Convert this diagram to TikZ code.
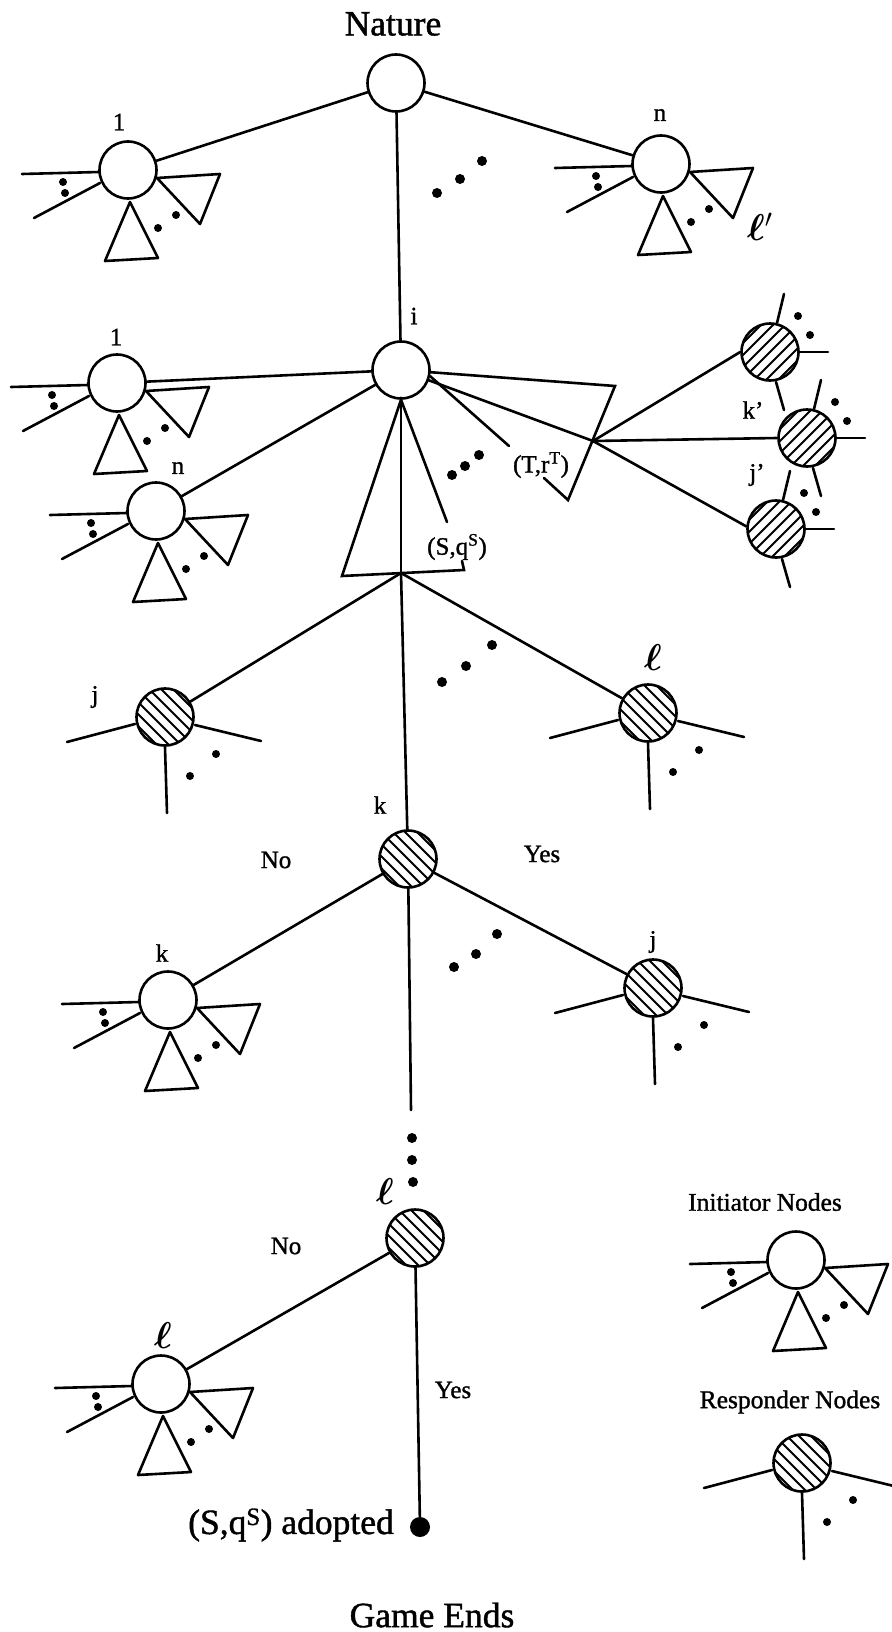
\documentclass[tikz,border=0pt]{standalone}
\usepackage{fontspec}
\setmainfont{Liberation Serif}[FakeBold=1.2]
\usepackage{bm}
\usetikzlibrary{calc}
\tikzset{
  edge/.style={line width=2.6pt, line cap=round, line join=round},
  ncirc/.style={circle, draw, line width=2.6pt, minimum size=57pt, inner sep=0pt},
  lab/.style={font=\fontsize{25}{29}\selectfont, inner sep=0pt},
  leg/.style={font=\fontsize{25.5}{29}\selectfont, inner sep=0pt},
  biglab/.style={font=\fontsize{35.5}{40}\selectfont, inner sep=0pt},
  hatch/.style={line width=1.9pt},
  initiator/.pic={
    \node[ncirc] (-c) at (0,0) {};
    \draw[edge] (-106,4) -- (-29,2);
    \draw[edge] (-94,48) -- (-28,13);
    \fill (-65,12) circle (4pt) (-63,23) circle (4pt);
    \draw[edge] (29,8) -- (92,4) -- (72,54) -- cycle;
    \draw[edge] (2,32) -- (-23,91) -- (30,88) -- cycle;
    \fill (30,58) circle (4pt) (48,45) circle (4pt);
  },
  rnode/.pic={
    \begin{scope}
      \clip (0,0) circle (28.5pt);
      \foreach \c in {-72,-60,...,72} \draw[hatch] (\c-40,-40) -- (\c+40,40);
    \end{scope}
    \node[ncirc] (-c) at (0,0) {};
  },
  rstubs/.pic={
    \draw[edge] (-30,7) -- (-98,25);
    \draw[edge] (30,8) -- (96,24);
    \draw[edge] (0,30) -- (2,96);
    \fill (25,59) circle (4pt) (51,37) circle (4pt);
  },
  pnode/.pic={
    \begin{scope}
      \clip (0,0) circle (28.5pt);
      \foreach \c in {-72,-60,...,72} \draw[hatch] (\c-40,40) -- (\c+40,-40);
    \end{scope}
    \node[ncirc] (-c) at (0,0) {};
    \draw[edge] (7,-29) -- (14,-58);
    \draw[edge] (30,0) -- (58,0);
    \draw[edge] (6,30) -- (14,58);
    \fill (28,-36) circle (4pt) (40,-17) circle (4pt);
  },
}
\begin{document}
\begin{tikzpicture}[x=1pt,y=-1pt]
\useasboundingbox (0,0) rectangle (891,1632);

% Nature
\node[biglab] at (393,24) {Nature};
\node[ncirc] (nat) at (396,83) {};
\pic (ta) at (128,170) {initiator};
\node[lab] at (119,122) {1};
\pic (tb) at (661,164) {initiator};
\node[lab] at (660,115) {n};
\draw[edge] (nat) -- (ta-c);
\draw[edge] (nat) -- (tb-c);
\fill (437,193) circle (5pt) (460,179) circle (5pt) (482,161) circle (5pt);

% i
\node[ncirc] (i) at (401,370) {};
\node[lab] at (414,316) {i};
\draw[edge] (nat) -- (i);
\pic (sa) at (117,383) {initiator};
\node[lab] at (116,337) {1};
\pic (sb) at (156,511) {initiator};
\node[lab] at (178,468) {n};
\draw[edge] (i) -- (sa-c);
\draw[edge] (i) -- (sb-c);

% (S,q^S) triangle
\coordinate (tl) at (342,576);
\coordinate (tr) at (464,570);
\coordinate (b0) at (401,573);
\coordinate (sA) at (447,522);
\coordinate (sB) at (462,561);
\draw[edge, line join=miter] (sA) -- (i.south) -- (tl) -- (tr) -- (sB);
\draw[edge] (i.south) -- (b0);
\node[lab] at (457,547) {(S,q\textsuperscript{S})};

% (T,r^T) triangle
\coordinate (A) at (615,386);
\coordinate (B) at (568,500);
\coordinate (P) at (593,441);
\coordinate (tA) at (509,446);
\coordinate (tB) at (544,478);
\draw[edge, line join=miter] (i) -- (A) -- (B) -- (tB);
\draw[edge] (i) -- (P);
\draw[edge] (i.-12) -- (tA);
\node[lab] at (541,465) {(T,r\textsuperscript{T})};
\fill (452,475) circle (5pt) (465,466) circle (5pt) (479,455) circle (5pt);

% primed responders
\pic (lp) at (770,352) {pnode};
\pic (kp) at (807,438) {pnode};
\pic (jp) at (776,529) {pnode};
\draw[edge] (P) -- (lp-c.west);
\draw[edge] (P) -- (kp-c.west);
\draw[edge] (P) -- (jp-c.175);
\node[lab] at (760,227) {\scalebox{1.5}{$\bm{\ell}'$}};
\node[lab] at (753,410) {k'};
\node[lab] at (757,475) {j'};

% middle responders
\pic (j1) at (165,717) {rnode};
\pic at (165,717) {rstubs};
\node[lab] at (95,697) {j};
\pic (l1) at (648,713) {rnode};
\pic at (648,713) {rstubs};
\node[lab] at (653,658) {\scalebox{1.5}{$\bm{\ell}$}};
\draw[edge] (b0) -- (j1-c);
\draw[edge] (b0) -- (l1-c);
\fill (442,682) circle (5pt) (466,666) circle (5pt) (492,645) circle (5pt);

% k
\pic (k) at (408,859) {rnode};
\node[lab] at (380,805) {k};
\draw[edge] (b0) -- (k-c);
\node[lab] at (276,860) {No};
\node[lab] at (542,854) {Yes};
\pic (k2) at (168,1000) {initiator};
\node[lab] at (162,953) {k};
\pic (j2) at (653,988) {rnode};
\pic at (653,988) {rstubs};
\node[lab] at (653,942) {j};
\coordinate (kend) at (411,1110);
\draw[edge] (k-c) -- (k2-c);
\draw[edge] (k-c) -- (j2-c);
\draw[edge] (k-c) -- (kend);
\fill (454,967) circle (5pt) (476,954) circle (5pt) (497,934) circle (5pt);
\fill (412,1138) circle (5pt) (412,1160) circle (5pt) (413,1182) circle (5pt);

% bottom l
\pic (l3) at (415,1238) {rnode};
\node[lab] at (385,1192) {\scalebox{1.5}{$\bm{\ell}$}};
\pic (l4) at (161,1384) {initiator};
\node[lab] at (163,1336) {\scalebox{1.5}{$\bm{\ell}$}};
\node[circle, fill, inner sep=0pt, minimum size=20pt] (end) at (420,1527) {};
\draw[edge] (l3-c) -- (l4-c);
\draw[edge] (l3-c) -- (end);
\node[lab] at (286,1246) {No};
\node[lab] at (453,1390) {Yes};
\node[biglab, anchor=east] at (394,1525) {(S,q\textsuperscript{S}) adopted};
\node[biglab] at (432,1615) {Game Ends};

% legend
\node[leg] at (765,1202) {Initiator Nodes};
\pic (lgi) at (796,1260) {initiator};
\node[leg] at (790,1402) {Responder Nodes};
\pic (lgr) at (802,1463) {rnode};
\pic at (802,1463) {rstubs};
\end{tikzpicture}
\end{document}
